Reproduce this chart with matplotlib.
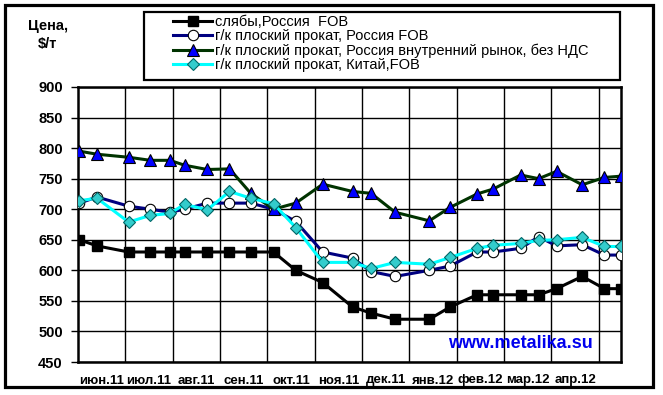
import numpy as np
import matplotlib
matplotlib.use("Agg")
import matplotlib.pyplot as plt
from matplotlib.patches import Rectangle

plt.rcParams['font.family'] = ['Liberation Sans', 'DejaVu Sans']

# positions: months since 1 Jun 2011
x_pos = [0.03, 0.40, 1.07, 1.53, 1.94, 2.25, 2.73, 3.20, 3.65, 4.13, 4.60, 5.17,
         5.80, 6.19, 6.70, 7.42, 7.86, 8.43, 8.77, 9.35, 9.73, 10.11, 10.65, 11.12, 11.46]

slabs = [650, 640, 630, 630, 630, 630, 630, 630, 630, 630, 600, 580,
         540, 530, 520, 520, 540, 560, 560, 560, 560, 570, 590, 570, 570]
hr_fob = [710, 720, 705, 700, 695, 700, 710, 710, 710, 700, 680, 630,
          620, 598, 590, 600, 607, 630, 630, 636, 655, 640, 642, 625, 625]
hr_dom = [795, 790, 785, 780, 780, 772, 765, 766, 726, 700, 710, 741,
          729, 726, 695, 681, 703, 725, 733, 756, 750, 762, 740, 752, 754]
hr_china = [714, 718, 679, 690, 693, 708, 699, 729, 718, 709, 670, 613,
            613, 603, 613, 610, 621, 636, 641, 644, 649, 650, 654, 639, 639]

months = ['июн.11', 'июл.11', 'авг.11', 'сен.11', 'окт.11', 'ноя.11',
          'дек.11', 'янв.12', 'фев.12', 'мар.12', 'апр.12']

labels = ['слябы,Россия  FOB',
          'г/к плоский прокат, Россия FOB',
          'г/к плоский прокат, Россия внутренний рынок, без НДС',
          'г/к плоский прокат, Китай,FOB']

W, H = 663, 395
fig = plt.figure(figsize=(W / 100, H / 100), dpi=100)
fig.patch.set_facecolor('white')


def fx(px):
    return px / W


def fy(py):
    return 1 - py / H


ax = fig.add_axes([fx(78), fy(362), fx(621) - fx(78), fy(87) - fy(362)])

lw = 2.2
ax.plot(x_pos, slabs, color='black', lw=lw, marker='s', ms=7.5,
        mfc='black', mec='black', label=labels[0], zorder=3)
ax.plot(x_pos, hr_fob, color='#000080', lw=lw, marker='o', ms=7.5,
        mfc='white', mec='black', mew=0.8, label=labels[1], zorder=4)
ax.plot(x_pos, hr_dom, color='#003300', lw=lw, marker='^', ms=8.5,
        mfc='#0000ff', mec='black', mew=0.8, label=labels[2], zorder=5)
ax.plot(x_pos, hr_china, color='#00ffff', lw=lw, marker='D', ms=6.5,
        mfc='#33cccc', mec='#006666', mew=0.8, label=labels[3], zorder=6)

ax.set_xlim(0, 11.47)
ax.set_ylim(450, 900)
ax.set_yticks(np.arange(450, 901, 50))
ax.set_xticks(np.arange(1, 12))
ax.set_xticks(np.arange(len(months)) + 0.5, minor=True)
ax.set_xticklabels([])
ax.set_xticklabels(months, minor=True)
ax.grid(True, which='major', color='black', lw=1)
ax.set_axisbelow(True)
ax.tick_params(axis='x', which='major', length=0)
ax.tick_params(axis='x', which='minor', length=0, pad=9, labelsize=9.5)
ax.tick_params(axis='y', length=5, width=1, pad=6, labelsize=10.5)
for t in ax.get_xticklabels(minor=True) + ax.get_yticklabels():
    t.set_fontweight('bold')
for s in ax.spines.values():
    s.set_linewidth(1.8)

fig.text(fx(48), fy(26), 'Цена,', ha='center', va='center',
         fontsize=10.5, fontweight='bold')
fig.text(fx(47), fy(44), '$/т', ha='center', va='center',
         fontsize=10.5, fontweight='bold')

fig.text(fx(520), fy(343), 'www.metalika.su', ha='center', va='center',
         fontsize=13, fontweight='bold', color='#0000ee')

# legend box and entries
fig.patches.append(Rectangle((fx(144), fy(80)), fx(620) - fx(144), fy(12) - fy(80),
                             transform=fig.transFigure, fill=False,
                             edgecolor='black', lw=1.6))
fig.legend(loc='upper left', bbox_to_anchor=(fx(170), fy(12)), frameon=False,
           fontsize=10.5, handlelength=2.7, handletextpad=0.2, labelspacing=0.02,
           borderaxespad=0, borderpad=0.2)

# outer frame
fig.patches.append(Rectangle((fx(5), fy(387)), fx(653) - fx(5), fy(5) - fy(387),
                             transform=fig.transFigure, fill=False,
                             edgecolor='black', lw=2.3))

fig.savefig('out.png', dpi=100)
